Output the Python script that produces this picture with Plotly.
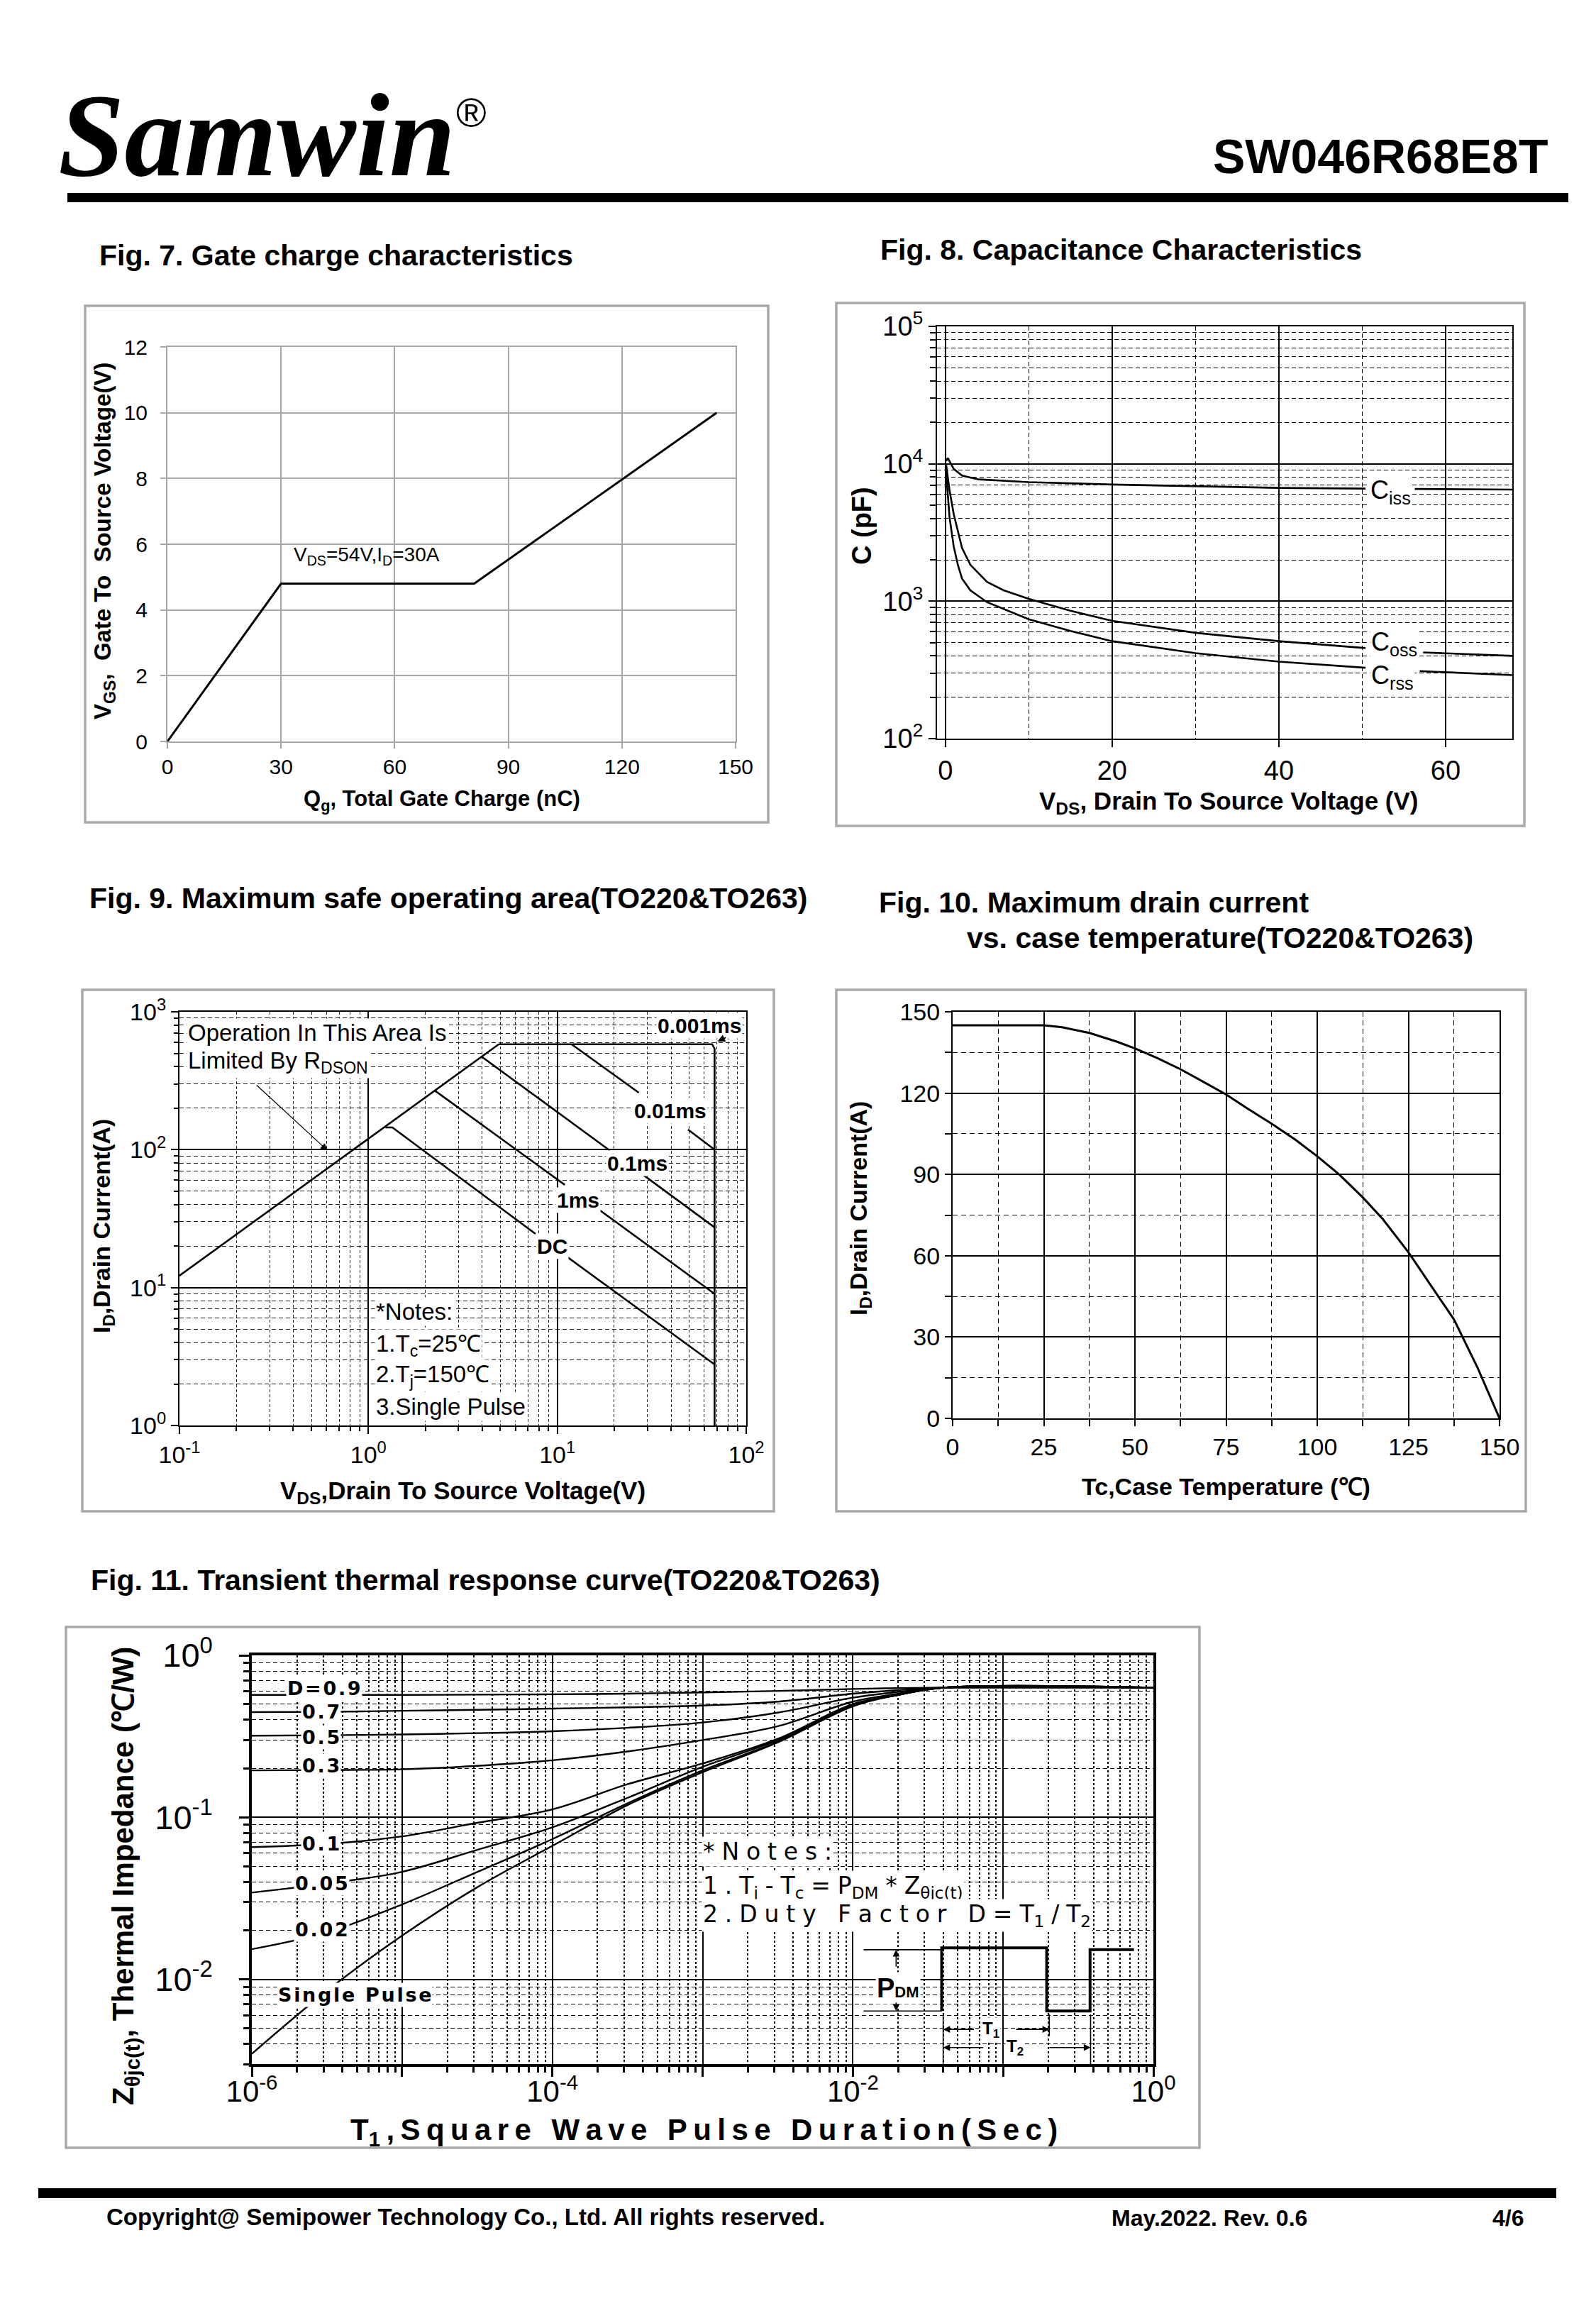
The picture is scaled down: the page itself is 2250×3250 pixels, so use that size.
import math
import plotly.graph_objects as go

W, H = 2250, 3250
FONT = "Liberation Sans, Arial, sans-serif"
SERIF = "Liberation Serif, Times New Roman, serif"
WIDE = "DejaVu Sans, Verdana, sans-serif"

# ---------------- data ----------------
# Fig 7  gate charge
qg_nc = [0, 30, 81, 145]
vgs_v = [0, 4.8, 4.8, 10]
fig7_xticks = [0, 30, 60, 90, 120, 150]
fig7_yticks = [0, 2, 4, 6, 8, 10, 12]

# Fig 8  capacitance
ciss_v = [0.1, 0.3, 1, 2, 4, 10, 20, 30, 40, 50.4, None, 56.3, 68]
ciss_pf = [10500, 11000, 9180, 8200, 7700, 7360, 7070, 6870, 6680, 6600, None, 6560, 6490]
coss_v = [0.1, 0.5, 1, 2, 3, 5, 7, 10, 15, 20, 30, 40, 50.4, None, 57.3, 68]
coss_pf = [9800, 6410, 4310, 2440, 1840, 1380, 1200, 1040, 853, 720, 589, 512, 456, None, 424, 400]
crss_v = [0.1, 0.5, 1, 1.5, 2, 3, 5, 7, 10, 15, 20, 30, 40, 50.4, None, 56.9, 68]
crss_pf = [8500, 4070, 2510, 1840, 1460, 1200, 984, 878, 740, 607, 512, 419, 363, 328, None, 310, 290]
fig8_xticks = [0, 20, 40, 60]
fig8_yticks = [1e2, 1e3, 1e4, 1e5]
fig8_ytext = ["10<sup>2</sup>", "10<sup>3</sup>", "10<sup>4</sup>", "10<sup>5</sup>"]

# Fig 9  SOA
rds_v = [0.1, 4.9]
rds_a = [12.2, 582]
lim_v = [4.9, 66, 68, 68]
lim_a = [582, 582, 540, 1]
p10us_v = [11.9, 27.0, None, 49.2, 68]
p10us_a = [582, 259, None, 140, 100]
p100us_v = [3.99, 18.9, None, 28.5, 68]
p100us_a = [471, 99, None, 65.6, 27.3]
p1ms_v = [2.25, 10.96, None, 16.5, 68]
p1ms_a = [268, 55.6, None, 37, 9.0]
dc_v = [1.23, 1.34, 7.67, None, 11.2, 68]
dc_a = [145, 145, 24.5, None, 16.8, 2.77]
fig9_xticks = [0.1, 1, 10, 100]
fig9_xtext = ["10<sup>-1</sup>", "10<sup>0</sup>", "10<sup>1</sup>", "10<sup>2</sup>"]
fig9_yticks = [1, 10, 100, 1000]
fig9_ytext = ["10<sup>0</sup>", "10<sup>1</sup>", "10<sup>2</sup>", "10<sup>3</sup>"]

# Fig 10  drain current vs case temperature
tc_c = [0, 25, 30, 37.5, 45, 50, 56, 62.5, 69, 75, 81, 87.5, 94, 100, 106, 112.5, 118, 125, 131, 137.5, 144, 150]
id_a = [145, 145, 144.3, 142.2, 139.0, 136.5, 133.0, 128.8, 124.0, 119.5, 114.2, 108.7, 102.8, 96.7, 90, 81.5, 73.5, 61.3, 49.4, 36.5, 18.6, 0]
fig10_xticks = [0, 25, 50, 75, 100, 125, 150]
fig10_yticks = [0, 30, 60, 90, 120, 150]

# Fig 11  transient thermal impedance
t_sec = [1e-6, 3.16e-6, 1e-5, 3.16e-5, 1e-4, 3.16e-4, 1e-3, 3.16e-3, 1e-2, 2e-2, 4e-2, 1]
z_d09 = [0.57, 0.57, 0.57, 0.572, 0.575, 0.58, 0.59, 0.603, 0.62, 0.628, 0.632, 0.632]
z_d07 = [0.446, 0.448, 0.455, 0.461, 0.469, 0.478, 0.49, 0.518, 0.58, 0.61, 0.632, 0.632]
z_d05 = [0.319, 0.321, 0.325, 0.331, 0.34, 0.357, 0.385, 0.443, 0.548, 0.595, 0.632, 0.632]
z_d03 = [0.195, 0.196, 0.198, 0.208, 0.225, 0.255, 0.30, 0.365, 0.518, 0.58, 0.632, 0.632]
z_d01 = [0.0655, 0.0685, 0.0763, 0.0925, 0.112, 0.160, 0.215, 0.305, 0.50, 0.57, 0.632, 0.632]
z_d005 = [0.0343, 0.039, 0.0461, 0.063, 0.0867, 0.132, 0.205, 0.30, 0.495, 0.57, 0.632, 0.632]
z_d002 = [0.01535, 0.0195, 0.029, 0.046, 0.0734, 0.122, 0.195, 0.293, 0.49, 0.57, 0.632, 0.632]
z_single = [0.00347, 0.0085, 0.0186, 0.037, 0.0667, 0.119, 0.19, 0.29, 0.485, 0.57, 0.632, 0.632]
fig11_xticks = [1e-6, 1e-5, 1e-4, 1e-3, 1e-2, 1e-1, 1]
fig11_xtext = ["10<sup>-6</sup>", " ", "10<sup>-4</sup>", " ", "10<sup>-2</sup>", " ", "10<sup>0</sup>"]
fig11_yticks = [1e-2, 1e-1, 1]
fig11_ytext = ["10<sup>-2</sup>", "10<sup>-1</sup>", "10<sup>0</sup>"]
d_labels = ["D=0.9", "0.7", "0.5", "0.3", "0.1", "0.05", "0.02", "Single Pulse"]
# pulse sketch (inset)
pulse_t = [0.039, 0.039, 0.195, 0.195, 0.379, 0.379, 0.743]
pulse_p = [0.00638, 0.01564, 0.01564, 0.00638, 0.00638, 0.01524, 0.01524]
ref_t = [0.01178, 0.039, None, 0.01178, 0.039, None, 0.0399, 0.0399, None, 0.203, 0.203, None, 0.382, 0.382]
ref_p = [0.01524, 0.01524, None, 0.00638, 0.00638, None, 0.00607, 0.003, None, 0.00607, 0.00446, None, 0.00607, 0.003]


# ---------------- helpers ----------------
def dom_x(a, b):
    return [a / W, b / W]


def dom_y(top, bottom):
    return [1 - bottom / H, 1 - top / H]


def spaced(s, sp="\u2009"):
    return sp.join(list(s))


def minor_log(decades, lo=None):
    vals = [m * 10 ** d for d in decades for m in range(2, 10)]
    if lo is not None:
        vals = [v for v in vals if v >= lo]
    return vals


fig = go.Figure()
LINE = dict(color="black", width=3)

# Fig 7
fig.add_trace(go.Scatter(x=qg_nc, y=vgs_v, mode="lines", line=LINE, xaxis="x", yaxis="y"))
# Fig 8
for xs, ys in [(ciss_v, ciss_pf), (coss_v, coss_pf), (crss_v, crss_pf)]:
    fig.add_trace(go.Scatter(x=xs, y=ys, mode="lines", line=dict(color="black", width=2.6),
                             xaxis="x2", yaxis="y2", connectgaps=False))
# Fig 9
for xs, ys in [(rds_v, rds_a), (lim_v, lim_a), (p10us_v, p10us_a), (p100us_v, p100us_a),
               (p1ms_v, p1ms_a), (dc_v, dc_a)]:
    fig.add_trace(go.Scatter(x=xs, y=ys, mode="lines", line=dict(color="black", width=2.6),
                             xaxis="x3", yaxis="y3", connectgaps=False))
# Fig 10
fig.add_trace(go.Scatter(x=tc_c, y=id_a, mode="lines", line=dict(color="black", width=3),
                         xaxis="x4", yaxis="y4"))
# Fig 11
for zs in [z_d09, z_d07, z_d05, z_d03, z_d01, z_d005, z_d002, z_single]:
    fig.add_trace(go.Scatter(x=t_sec, y=zs, mode="lines", line=dict(color="black", width=2.4),
                             line_shape="spline", xaxis="x5", yaxis="y5"))
fig.add_trace(go.Scatter(x=pulse_t, y=pulse_p, mode="lines", line=dict(color="black", width=4),
                         xaxis="x5", yaxis="y5"))
fig.add_trace(go.Scatter(x=ref_t, y=ref_p, mode="lines", line=dict(color="black", width=1.6),
                         xaxis="x5", yaxis="y5", connectgaps=False))

GRAY = "#a6a6a6"
TICKF = dict(family=FONT, size=34, color="black")
COMMON = dict(automargin=False, zeroline=False, showline=True, mirror=True, ticks="outside")

layout = dict(
    template="none",
    width=W, height=H, margin=dict(l=0, r=0, t=0, b=0, pad=0, autoexpand=False),
    paper_bgcolor="white", plot_bgcolor="white", showlegend=False,
    # Fig 7
    xaxis=dict(COMMON, domain=dom_x(228, 1029), anchor="y", range=[0, 150], tickmode="array",
               tickvals=fig7_xticks, showgrid=True, gridcolor=GRAY, gridwidth=2,
               linecolor=GRAY, linewidth=2, ticklen=8, tickwidth=2, tickcolor=GRAY,
               tickfont=dict(family=FONT, size=30, color="black")),
    yaxis=dict(COMMON, domain=dom_y(481, 1037), anchor="x", range=[0, 12], tickmode="array",
               tickvals=fig7_yticks, showgrid=True, gridcolor=GRAY, gridwidth=2,
               linecolor=GRAY, linewidth=2, ticklen=8, tickwidth=2, tickcolor=GRAY,
               ticklabelstandoff=12, tickfont=dict(family=FONT, size=30, color="black")),
    # Fig 8
    xaxis2=dict(COMMON, domain=dom_x(1313, 2124), anchor="y2", range=[-1, 68], tickmode="array",
                tickvals=fig8_xticks, showgrid=True, gridcolor="black", gridwidth=1.5,
                linecolor="black", linewidth=2, ticklen=10, tickwidth=2, tickcolor="black",
                tickfont=dict(family=FONT, size=38, color="black"),
                minor=dict(tickvals=[10, 30, 50], showgrid=True, gridcolor="black", gridwidth=1.3,
                           griddash="6px,4px", ticks="")),
    yaxis2=dict(COMMON, domain=dom_y(452, 1033), anchor="x2", type="log", range=[2, 5], tickmode="array",
                tickvals=fig8_yticks, ticktext=fig8_ytext, showgrid=True, gridcolor="black",
                gridwidth=1.5, linecolor="black", linewidth=2, ticklen=10, tickwidth=2,
                tickcolor="black", tickfont=dict(family=FONT, size=38, color="black"),
                minor=dict(tickvals=minor_log([2, 3, 4]), showgrid=True, gridcolor="black",
                           gridwidth=1.3, griddash="6px,4px", ticks="outside", ticklen=8,
                           tickcolor="black")),
    # Fig 9
    xaxis3=dict(COMMON, domain=dom_x(245, 1044), anchor="y3", type="log", range=[-1, 2], tickmode="array",
                tickvals=fig9_xticks, ticktext=fig9_xtext, showgrid=True, gridcolor="black",
                gridwidth=1.5, linecolor="black", linewidth=2, ticklen=10, tickwidth=2,
                tickcolor="black", tickfont=TICKF,
                minor=dict(tickvals=minor_log([-1, 0, 1]), showgrid=True, gridcolor="#222",
                           gridwidth=1.2, griddash="4px,3px", ticks="outside", ticklen=6,
                           tickcolor="black")),
    yaxis3=dict(COMMON, domain=dom_y(1418, 2001), anchor="x3", type="log", range=[0, 3], tickmode="array",
                tickvals=fig9_yticks, ticktext=fig9_ytext, showgrid=True, gridcolor="black",
                gridwidth=1.5, linecolor="black", linewidth=2, ticklen=10, tickwidth=2,
                tickcolor="black", tickfont=TICKF,
                minor=dict(tickvals=minor_log([0, 1, 2]), showgrid=True, gridcolor="#222",
                           gridwidth=1.2, griddash="6px,4px", ticks="outside", ticklen=6,
                           tickcolor="black")),
    # Fig 10
    xaxis4=dict(COMMON, domain=dom_x(1335, 2106), anchor="y4", range=[0, 150], tickmode="array",
                tickvals=fig10_xticks, showgrid=True, gridcolor="black", gridwidth=1.5,
                linecolor="black", linewidth=2, ticklen=9, tickwidth=2, tickcolor="black",
                tickfont=TICKF,
                minor=dict(tickvals=[12.5, 37.5, 62.5, 87.5, 112.5, 137.5], showgrid=True,
                           gridcolor="black", gridwidth=1.3, griddash="7px,5px", ticks="outside",
                           ticklen=9, tickcolor="black")),
    yaxis4=dict(COMMON, domain=dom_y(1418, 1991), anchor="x4", range=[0, 150], tickmode="array",
                tickvals=fig10_yticks, showgrid=True, gridcolor="black", gridwidth=1.5,
                linecolor="black", linewidth=2, ticklen=9, tickwidth=2, tickcolor="black",
                tickfont=TICKF,
                minor=dict(tickvals=[15, 45, 75, 105, 135], showgrid=True, gridcolor="black",
                           gridwidth=1.3, griddash="7px,5px", ticks="outside", ticklen=9,
                           tickcolor="black")),
    # Fig 11
    xaxis5=dict(COMMON, domain=dom_x(347, 1618), anchor="y5", type="log", range=[-6, 0], tickmode="array",
                tickvals=fig11_xticks, ticktext=fig11_xtext, showgrid=True, gridcolor="black",
                gridwidth=1.6, linecolor="black", linewidth=3.5, ticklen=14, tickwidth=3,
                tickcolor="black", ticklabelstandoff=-15,
                tickfont=dict(family=FONT, size=42, color="black"),
                minor=dict(tickvals=minor_log([-6, -5, -4, -3, -2, -1]), showgrid=True,
                           gridcolor="black", gridwidth=1.6, griddash="3px,3px", ticks="outside",
                           ticklen=8, tickwidth=3, tickcolor="black")),
    yaxis5=dict(COMMON, domain=dom_y(2325, 2901), anchor="x5", type="log", range=[math.log10(0.003), 0],
                tickmode="array", tickvals=fig11_yticks, ticktext=fig11_ytext, showgrid=True,
                gridcolor="black", gridwidth=1.6, linecolor="black", linewidth=3.5,
                ticklen=14, tickwidth=3, tickcolor="black", ticklabelstandoff=28,
                tickfont=dict(family=FONT, size=47, color="black"),
                minor=dict(tickvals=minor_log([-3, -2, -1], lo=0.003), showgrid=True,
                           gridcolor="black", gridwidth=1.4, griddash="6px,4px", ticks="outside",
                           ticklen=8, tickwidth=3, tickcolor="black")),
)
fig.update_layout(**layout)

shapes = []
# panel frames
for (x0, y0, x1, y1) in [(112, 423, 1075, 1151), (1171, 419, 2141, 1156), (108, 1387, 1083, 2122),
                         (1171, 1387, 2143, 2122), (85, 2285, 1683, 3019)]:
    shapes.append(dict(type="rect", xref="paper", yref="paper", x0=x0 / W, x1=x1 / W,
                       y0=1 - y1 / H, y1=1 - y0 / H, line=dict(color="#a9a9a9", width=3.5),
                       layer="below"))
# header and footer bars
shapes.append(dict(type="rect", xref="paper", yref="paper", x0=87 / W, x1=2203 / W,
                   y0=1 - 277 / H, y1=1 - 264 / H, fillcolor="black", line=dict(width=0)))
shapes.append(dict(type="rect", xref="paper", yref="paper", x0=46 / W, x1=2186 / W,
                   y0=1 - 3090 / H, y1=1 - 3076 / H, fillcolor="black", line=dict(width=0)))
fig.update_layout(shapes=shapes)

ann = []


def ptext(text, x, y, size, family=FONT, xanchor="left", yanchor="middle", angle=0, color="black"):
    ann.append(dict(text=text, x=x / W, y=1 - y / H, xref="paper", yref="paper", showarrow=False,
                    xanchor=xanchor, yanchor=yanchor, textangle=angle,
                    font=dict(family=family, size=size, color=color)))


# header
ptext("<b><i>Samwin</i></b>", 72, 182, 168, family=SERIF)
ptext("®", 656, 150, 58, xanchor="center")
ptext("<b>SW046R68E8T</b>", 2176, 212, 68, xanchor="right")
# figure titles
ptext("<b>Fig. 7. Gate charge characteristics</b>", 130, 352, 41)
ptext("<b>Fig. 8. Capacitance Characteristics</b>", 1231, 344, 41)
ptext("<b>Fig. 9. Maximum safe operating area(TO220&TO263)</b>", 116, 1258, 41)
ptext("<b>Fig. 10. Maximum drain current</b>", 1229, 1264, 41)
ptext("<b>vs. case temperature(TO220&TO263)</b>", 1353, 1314, 41)
ptext("<b>Fig. 11. Transient thermal response curve(TO220&TO263)</b>", 118, 2219, 41)
# footer
ptext("<b>Copyright@ Semipower Technology Co., Ltd. All rights reserved.</b>", 140, 3116, 33)
ptext("<b>May.2022. Rev. 0.6</b>", 1557, 3118, 32)
ptext("<b>4/6</b>", 2094, 3118, 32)

# axis titles
ptext("<b>V<sub>GS</sub>,  Gate To  Source Voltage(V)</b>", 139, 755, 33, angle=-90, xanchor="center")
ptext("<b>Q<sub>g</sub>, Total Gate Charge (nC)</b>", 615, 1120, 31, xanchor="center")
ptext("<b>C (pF)</b>", 1207, 733, 38, angle=-90, xanchor="center")
ptext("<b>V<sub>DS</sub>, Drain To Source Voltage (V)</b>", 1724, 1123, 35, xanchor="center")
ptext("<b>I<sub>D</sub>,Drain Current(A)</b>", 137, 1720, 34, angle=-90, xanchor="center")
ptext("<b>V<sub>DS</sub>,Drain To Source Voltage(V)</b>", 644, 2095, 35, xanchor="center")
ptext("<b>I<sub>D</sub>,Drain Current(A)</b>", 1204, 1695, 34, angle=-90, xanchor="center")
ptext("<b>Tc,Case Temperature (℃)</b>", 1720, 2087, 34, xanchor="center")
ptext("<b>Z<sub>θjc(t)</sub>, Thermal Impedance (℃/W)</b>", 168, 2636, 42,
      angle=-90, xanchor="center")
SP = "\u2009\u200a"
ptext("<b>" + "T<sub>1</sub>" + "\u2009" + spaced(",Square Wave Pulse Duration(Sec)", "\u2009") + "</b>",
      984, 2996, 42, xanchor="center")


def dtext(text, x, y, xr, yr, size, family=FONT, xanchor="center", bg="white"):
    ann.append(dict(text=text, x=x, y=y, xref=xr, yref=yr, showarrow=False, xanchor=xanchor,
                    yanchor="middle", bgcolor=bg, borderpad=1,
                    font=dict(family=family, size=size, color="black")))


L = math.log10
# Fig 7 annotation
dtext("V<sub>DS</sub>=54V,I<sub>D</sub>=30A", 33, 5.65, "x", "y", 28, xanchor="left", bg="rgba(0,0,0,0)")
# Fig 8 labels
dtext("C<sub>iss</sub>", 53.4, L(6300), "x2", "y2", 36)
dtext("C<sub>oss</sub>", 53.8, L(490), "x2", "y2", 36)
dtext("C<sub>rss</sub>", 53.6, L(282), "x2", "y2", 36)
# Fig 9 labels
dtext("<b>0.001ms</b>", L(56.4), L(790), "x3", "y3", 30)
dtext("<b>0.01ms</b>", L(39.5), L(191), "x3", "y3", 30)
dtext("<b>0.1ms</b>", L(26.5), L(80), "x3", "y3", 30)
dtext("<b>1ms</b>", L(12.9), L(43), "x3", "y3", 30)
dtext("<b>DC</b>", L(9.4), L(19.9), "x3", "y3", 30)
dtext("Operation In This Area Is", L(0.1086), L(703), "x3", "y3", 33, xanchor="left")
dtext("Limited By R<sub>DSON</sub>", L(0.1086), L(430), "x3", "y3", 33, xanchor="left")
dtext("*Notes:", L(1.076), L(6.68), "x3", "y3", 33, xanchor="left")
dtext("1.T<sub>c</sub>=25℃", L(1.076), L(3.8), "x3", "y3", 33, xanchor="left")
dtext("2.T<sub>j</sub>=150℃", L(1.076), L(2.3), "x3", "y3", 33, xanchor="left")
dtext("3.Single Pulse", L(1.076), L(1.37), "x3", "y3", 33, xanchor="left")
ann.append(dict(x=L(0.607), y=L(98.9), ax=L(0.253), ay=L(298), xref="x3", yref="y3", axref="x3",
                ayref="y3", showarrow=True, arrowhead=2, arrowsize=1.6, arrowwidth=1.2,
                arrowcolor="black", text=""))
ann.append(dict(x=L(70.5), y=L(610), ax=L(79), ay=L(656), xref="x3", yref="y3", axref="x3",
                ayref="y3", showarrow=True, arrowhead=2, arrowsize=1.4, arrowwidth=1.5,
                arrowcolor="black", text=""))
# Fig 11 labels
d_pos = [(-5.519, -0.202), (-5.538, -0.346), (-5.538, -0.504), (-5.538, -0.681),
         (-5.54, -1.164), (-5.533, -1.408), (-5.533, -1.693), (-5.317, -2.096)]
for lab, (lx, ly) in zip(d_labels, d_pos):
    dtext("<b>" + spaced(lab, "\u200a") + "</b>", lx, ly, "x5", "y5", 27, family=WIDE)
dtext(spaced("*Notes:", SP), -3.009, -1.21, "x5", "y5", 33, family=WIDE, xanchor="left")
dtext(spaced("1.T", SP) + "<sub>j</sub>" + SP + spaced("-T", SP) + "<sub>c</sub>" + SP
      + spaced("=P", SP) + "<sub>DM</sub>" + SP + spaced("*Z", SP) + "<sub>θjc(t)</sub>",
      -3.009, -1.428, "x5", "y5", 33, family=WIDE, xanchor="left")
dtext(spaced("2.Duty Factor D=T", SP) + "<sub>1</sub>" + SP + "/" + SP + "T<sub>2</sub>",
      -3.009, -1.604, "x5", "y5", 33, family=WIDE, xanchor="left")
dtext("<b>P<span style='font-size:22px'>DM</span></b>", L(0.02), L(0.00886), "x5", "y5", 38,
      bg="white")
dtext("<b>T<sub>1</sub></b>", L(0.0826), L(0.00491), "x5", "y5", 24)
dtext("<b>T<sub>2</sub></b>", L(0.1197), L(0.00379), "x5", "y5", 24)
for (hx, hy, tx, ty) in [(0.0194, 0.01524, 0.0194, 0.0118), (0.0194, 0.00638, 0.0194, 0.0073),
                         (0.0399, 0.00491, 0.065, 0.00491), (0.203, 0.00491, 0.12, 0.00491),
                         (0.0399, 0.00379, 0.075, 0.00379), (0.382, 0.00379, 0.2, 0.00379)]:
    ann.append(dict(x=L(hx), y=L(hy), ax=L(tx), ay=L(ty), xref="x5", yref="y5", axref="x5",
                    ayref="y5", showarrow=True, arrowhead=2, arrowsize=1.2, arrowwidth=1.6,
                    arrowcolor="black", text=""))

fig.update_layout(annotations=ann)
fig.write_html("out.html")
